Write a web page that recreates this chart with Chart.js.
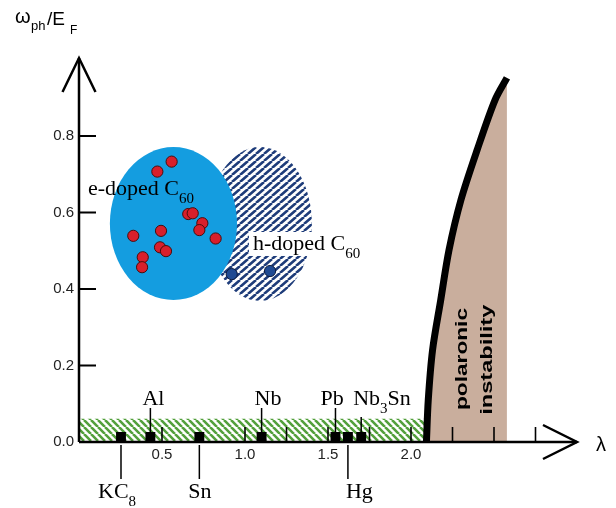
<!DOCTYPE html>
<html><head><meta charset="utf-8">
<script src="https://cdn.jsdelivr.net/npm/chart.js@4.4.0/dist/chart.umd.min.js"></script>
<style>html,body{margin:0;padding:0;background:#fff}</style>
</head><body>
<canvas id="c" width="616" height="508"></canvas>
<script>
// ---------- data ----------
const eDopedLambda = [0.558,0.472,0.658,0.685,0.743,0.725,0.494,0.327,0.823,0.488,0.524,0.384,0.380];
const eDopedOmega  = [0.733,0.707,0.596,0.598,0.572,0.554,0.552,0.539,0.532,0.509,0.499,0.483,0.457];
const hDopedLambda = [0.920,1.151];
const hDopedOmega  = [0.439,0.447];
const materialNames  = ['KC_{8}','Al','Sn','Nb','Pb','Hg','Nb_{3}Sn'];
const materialLambda = [0.253,0.430,0.725,1.100,1.545,1.620,1.700];
const materialOmega  = [0.013,0.013,0.013,0.013,0.013,0.013,0.013];
const materialSide   = ['below','above','below','above','above','below','above'];
const boundaryLambda = [2.093,2.104,2.130,2.179,2.229,2.301,2.398,2.506,2.578];
const boundaryOmega  = [0.000,0.110,0.241,0.371,0.502,0.633,0.763,0.894,0.952];
const stripLambda = [0, 2.084];
const stripOmega  = [0.061, 0.061];
// ellipses: [centre lambda, centre omega, half-width lambda, half-height omega]
const eDopedRegion = [0.569, 0.571, 0.383, 0.200];
const hDopedRegion = [1.090, 0.570, 0.313, 0.201];
const xLabelTicks = [0.5, 1.0, 1.5, 2.0];
const xMarkTicks  = [0.5, 1.0, 1.25, 1.5, 1.75, 2.0, 2.25, 2.5, 2.75];
const yTicks      = [0.0, 0.2, 0.4, 0.6, 0.8];
const yMarkTicks  = [0.2, 0.4, 0.6, 0.8];

// ---------- layout / style ----------
const labelDx = [-23,-8,-11,-7,-15,-2,-8];         // text left offset from square (px)
const lineGap = [0,3,0,3,3,0,12];
const anchors = {e:[0.054,0.646], h:[1.048,0.502], pol:[2.310,0.217], inst:[2.463,0.215]};
const SERIF = '"Liberation Serif","Times New Roman",serif';
const SANS = '"Liberation Sans",Arial,sans-serif';

const canvas = document.getElementById('c');
const c0 = canvas.getContext('2d');
function makeHatch(color, w, h, lw, dir){
  const t = document.createElement('canvas'); t.width=w; t.height=h;
  const g = t.getContext('2d');
  g.fillStyle='#fff'; g.fillRect(0,0,w,h);
  g.strokeStyle=color; g.lineWidth=lw; g.beginPath();
  for(let k=-1;k<=1;k++){
    if(dir==='/'){ g.moveTo(k*w,h); g.lineTo(k*w+w,0); }
    else { g.moveTo(k*w,0); g.lineTo(k*w+w,h); }
  }
  g.stroke();
  return c0.createPattern(t,'repeat');
}
const greenHatch = makeHatch('#53a03c',7,7,2.6,'\\');
const navyHatch  = makeHatch('#1e3c7a',8,7,2.6,'/');

function parseRich(s){
  const parts=[]; const re=/_\{([^}]*)\}/g; let last=0,m;
  while((m=re.exec(s))){ if(m.index>last) parts.push({t:s.slice(last,m.index),sub:false}); parts.push({t:m[1],sub:true}); last=re.lastIndex; }
  if(last<s.length) parts.push({t:s.slice(last),sub:false});
  return parts;
}
function richWidth(ctx,s,mf,sf){ let w=0; for(const p of parseRich(s)){ ctx.font=p.sub?sf:mf; w+=ctx.measureText(p.t).width; } return w; }
function drawRich(ctx,s,x,y,mf,sf,dy){
  ctx.textAlign='left'; ctx.textBaseline='alphabetic'; let cx=x;
  for(const p of parseRich(s)){ ctx.font=p.sub?sf:mf; ctx.fillText(p.t,cx,y+(p.sub?dy:0)); cx+=ctx.measureText(p.t).width; }
  return cx;
}
function drawStretched(ctx,text,cx,cy,font,len){
  ctx.save(); ctx.translate(cx,cy); ctx.rotate(-Math.PI/2); ctx.font=font;
  const w=ctx.measureText(text).width; ctx.scale(len/w,1);
  ctx.textAlign='center'; ctx.textBaseline='middle'; ctx.fillStyle='#000'; ctx.fillText(text,0,0); ctx.restore();
}

const overlay = {
  id:'overlay',
  beforeDatasetsDraw(chart){
    const {ctx, scales:{x,y}} = chart;
    const ell = (r, fill) => {
      const cx=x.getPixelForValue(r[0]), cy=y.getPixelForValue(r[1]);
      const rx=x.getPixelForValue(r[0]+r[2])-cx, ry=cy-y.getPixelForValue(r[1]+r[3]);
      ctx.beginPath(); ctx.ellipse(cx,cy,rx,ry,0,0,Math.PI*2); ctx.fillStyle=fill; ctx.fill();
    };
    ctx.save();
    ell(hDopedRegion, navyHatch);
    ell(eDopedRegion, '#149de0');
    ctx.restore();
  },
  afterDatasetsDraw(chart){
    const {ctx, scales:{x,y}, chartArea:a} = chart;
    ctx.save();
    ctx.strokeStyle='#000'; ctx.fillStyle='#000';
    // axes
    ctx.lineWidth=2.5; ctx.lineCap='butt';
    ctx.beginPath(); ctx.moveTo(a.left,a.bottom); ctx.lineTo(a.right,a.bottom);
    ctx.moveTo(a.left,a.bottom); ctx.lineTo(a.left,a.top-1.5); ctx.stroke();
    // arrows
    ctx.lineJoin='miter';
    ctx.beginPath(); ctx.moveTo(a.left-16.5,a.top+32.5); ctx.lineTo(a.left,a.top-1.5); ctx.lineTo(a.left+16.5,a.top+32.5); ctx.stroke();
    ctx.beginPath(); ctx.moveTo(a.right-34,a.bottom-17); ctx.lineTo(a.right,a.bottom); ctx.lineTo(a.right-34,a.bottom+17); ctx.stroke();
    // inward ticks
    ctx.lineWidth=1.6; ctx.beginPath();
    for(const v of xMarkTicks){ const px=x.getPixelForValue(v); ctx.moveTo(px,a.bottom); ctx.lineTo(px,a.bottom-15); }
    ctx.stroke();
    ctx.lineWidth=2; ctx.beginPath();
    for(const v of yMarkTicks){ const py=y.getPixelForValue(v); ctx.moveTo(a.left,py); ctx.lineTo(a.left+17,py); }
    ctx.stroke();
    // material labels
    const mf='22px '+SERIF, sf='15px '+SERIF;
    ctx.lineWidth=1.5;
    materialNames.forEach((name,i)=>{
      const px=x.getPixelForValue(materialLambda[i]);
      const py=y.getPixelForValue(materialOmega[i]);
      ctx.beginPath();
      if(materialSide[i]==='above'){
        const base=a.bottom-37;
        ctx.moveTo(px,base+lineGap[i]); ctx.lineTo(px,py-4); ctx.stroke();
        drawRich(ctx,name,px+labelDx[i],base,mf,sf,8);
      } else {
        ctx.moveTo(px,a.bottom+3); ctx.lineTo(px,a.bottom+37); ctx.stroke();
        drawRich(ctx,name,px+labelDx[i],a.bottom+55.5,mf,sf,8);
      }
    });
    // e-doped label
    drawRich(ctx,'e-doped C_{60}',x.getPixelForValue(anchors.e[0]),y.getPixelForValue(anchors.e[1]),mf,sf,8);
    // h-doped label with white box
    const hx=x.getPixelForValue(anchors.h[0]), hy=y.getPixelForValue(anchors.h[1]);
    const hw=richWidth(ctx,'h-doped C_{60}',mf,sf);
    ctx.fillStyle='#fff'; ctx.fillRect(hx-4,hy-18,hw+8,24);
    ctx.fillStyle='#000';
    drawRich(ctx,'h-doped C_{60}',hx,hy,mf,sf,8);
    // polaronic instability
    drawStretched(ctx,'polaronic',x.getPixelForValue(anchors.pol[0]),y.getPixelForValue(anchors.pol[1]),'bold 16.5px '+SANS,102);
    drawStretched(ctx,'instability',x.getPixelForValue(anchors.inst[0]),y.getPixelForValue(anchors.inst[1]),'bold 16.5px '+SANS,110);
    // axis titles
    ctx.fillStyle='#000'; ctx.textAlign='left'; ctx.textBaseline='alphabetic';
    ctx.font='20px '+SANS; ctx.fillText('ω',15,23);
    ctx.font='13px '+SANS; ctx.fillText('ph',31,30);
    ctx.font='19px '+SANS; ctx.fillText('/E',47,25);
    ctx.font='12px '+SANS; ctx.fillText('F',70,34);
    ctx.font='20px '+SANS; ctx.textAlign='center'; ctx.textBaseline='middle'; ctx.fillText('λ',601,445);
    ctx.restore();
  }
};

new Chart(canvas,{
  type:'scatter',
  data:{datasets:[
    {label:'e-doped C60', data:eDopedLambda.map((v,i)=>({x:v,y:eDopedOmega[i]})), backgroundColor:'#d81f2b', borderColor:'#4a0c0c', borderWidth:1, pointRadius:5.6, order:0},
    {label:'h-doped C60', data:hDopedLambda.map((v,i)=>({x:v,y:hDopedOmega[i]})), backgroundColor:'#1f4a92', borderColor:'#0b1a3d', borderWidth:1, pointRadius:5.6, order:0},
    {label:'materials', data:materialLambda.map((v,i)=>({x:v,y:materialOmega[i]})), pointStyle:'rect', pointRadius:7, backgroundColor:'#000', borderWidth:0, order:1},
    {type:'line', label:'boundary', data:boundaryLambda.map((v,i)=>({x:v,y:boundaryOmega[i]})), borderColor:'#000', borderWidth:7, pointRadius:0, fill:'origin', backgroundColor:'#c9ae9d', tension:0.3, order:2},
    {type:'line', label:'strip', data:stripLambda.map((v,i)=>({x:v,y:stripOmega[i]})), borderColor:'rgba(0,0,0,0)', borderWidth:1, pointRadius:0, fill:'origin', backgroundColor:greenHatch, order:3}
  ]},
  options:{
    responsive:false, animation:false, events:[],
    layout:{padding:{left:0,right:39,top:59.5,bottom:0}},
    plugins:{legend:{display:false}, tooltip:{enabled:false}},
    scales:{
      x:{type:'linear', min:0, max:3,
        afterFit:s=>{s.height=66;},
        afterBuildTicks:s=>{s.ticks=xLabelTicks.map(v=>({value:v}));},
        grid:{display:false, drawTicks:false}, border:{display:false},
        ticks:{callback:v=>Number(v).toFixed(1), color:'#222', font:{family:'Liberation Sans',size:15}, padding:4, maxRotation:0, autoSkip:false}},
      y:{type:'linear', min:0, max:1,
        afterFit:s=>{s.width=79;},
        afterBuildTicks:s=>{s.ticks=yTicks.map(v=>({value:v}));},
        grid:{display:false, drawTicks:false}, border:{display:false},
        ticks:{callback:v=>Number(v).toFixed(1), color:'#222', font:{family:'Liberation Sans',size:15}, padding:5, autoSkip:false}}
    }
  },
  plugins:[overlay]
});
</script>
</body></html>
